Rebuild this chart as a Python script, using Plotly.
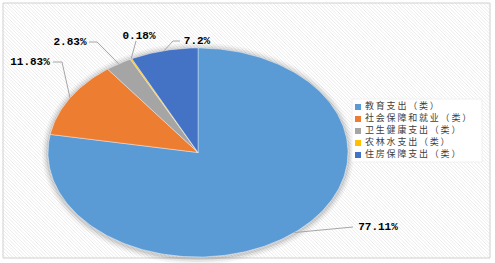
import math
import plotly.graph_objects as go

# ---- data ----
categories = ["教育支出（类）", "社会保障和就业（类）", "卫生健康支出（类）", "农林水支出（类）", "住房保障支出（类）"]
values = [77.11, 11.83, 2.83, 0.18, 7.2]

# ---- styles / layout ----
colors = ["#5B9BD5", "#ED7D31", "#A5A5A5", "#FFC000", "#4472C4"]
W, H = 495, 263
CX, CY, RX, RY = 198, 152.5, 150, 104.5
# label text centres and leader-line elbow points (layout positions)
label_pos = [(378, 227), (30, 62), (70, 42), (139, 36), (197, 41)]
elbows = [[(353, 227)], [(62, 62), (53, 62)], [(97, 42), (89, 42)], [(136, 41)], [(173, 41), (180, 41)]]
LEG_X, LEG_Y0, LEG_DY = 358, 107, 12

def pt(theta, rx=RX, ry=RY):
    return CX + rx * math.sin(theta), CY - ry * math.cos(theta)

fig = go.Figure()
shapes = []

# outer background hatch
bx0, by0, bx1, by1 = 3, 3, 490, 258
k = bx0 - by1
while k < bx1 - by0:
    xs = max(bx0, by0 + k)
    xe = min(bx1, by1 + k)
    if xs < xe:
        shapes.append(dict(type="line", x0=xs, y0=xs - k, x1=xe, y1=xe - k,
                           line=dict(color="#ececec", width=1), layer="below"))
    k += 3.5
shapes.append(dict(type="rect", x0=bx0, y0=by0, x1=bx1, y1=by1,
                   line=dict(color="#d0d0d0", width=1), layer="below"))
# pie shadow
for d, a in [(6, 0.04), (4, 0.06), (2, 0.09)]:
    shapes.append(dict(type="circle", x0=CX - RX - d, x1=CX + RX + d, y0=CY - RY - d + 1, y1=CY + RY + d + 1,
                       fillcolor=f"rgba(0,0,0,{a})", line=dict(width=0), layer="below"))
# legend box
shapes.append(dict(type="rect", x0=352, y0=99, x1=482, y1=162, fillcolor="white",
                   line=dict(color="#f0f0f0", width=1), layer="below"))

total = sum(values)
start = 0.0
for cat, v, col, lp, el in zip(categories, values, colors, label_pos, elbows):
    ang = 2 * math.pi * v / total
    n = max(2, int(math.degrees(ang)) + 2)
    xs, ys = [CX], [CY]
    for i in range(n + 1):
        x, y = pt(start + ang * i / n)
        xs.append(x); ys.append(y)
    xs.append(CX); ys.append(CY)
    fig.add_trace(go.Scatter(x=xs, y=ys, fill="toself", fillcolor=col, mode="lines",
                             line=dict(color="white", width=0.4), name=cat, hoverinfo="name",
                             showlegend=False))
    # leader line
    ax, ay = pt(start + ang / 2)
    lx = [ax] + [p[0] for p in el]
    ly = [ay] + [p[1] for p in el]
    fig.add_trace(go.Scatter(x=lx, y=ly, mode="lines", line=dict(color="#a6a6a6", width=1),
                             hoverinfo="skip", showlegend=False))
    fig.add_trace(go.Scatter(x=[lp[0]], y=[lp[1]], mode="text", text=[f"<b>{v}%</b>"],
                             textposition="middle center",
                             textfont=dict(family="Liberation Mono", size=11, color="#000000"),
                             hoverinfo="skip", showlegend=False))
    start += ang

# manual legend
ly = [LEG_Y0 + LEG_DY * i for i in range(len(categories))]
spaced = ["\u2009".join(c) for c in categories]
fig.add_trace(go.Scatter(x=[LEG_X] * len(categories), y=ly, mode="markers",
                         marker=dict(symbol="square", size=6, color=colors),
                         hoverinfo="skip", showlegend=False))
fig.add_trace(go.Scatter(x=[LEG_X + 7] * len(categories), y=ly, mode="text", text=spaced,
                         textposition="middle right",
                         textfont=dict(family="Noto Sans CJK SC", size=9, color="#404040"),
                         hoverinfo="skip", showlegend=False))

fig.update_layout(
    width=W, height=H, margin=dict(l=0, r=0, t=0, b=0),
    paper_bgcolor="white", plot_bgcolor="white",
    xaxis=dict(range=[0, W], visible=False, fixedrange=True),
    yaxis=dict(range=[H, 0], visible=False, fixedrange=True),
    shapes=shapes, showlegend=False,
)
fig.write_html("out.html")
